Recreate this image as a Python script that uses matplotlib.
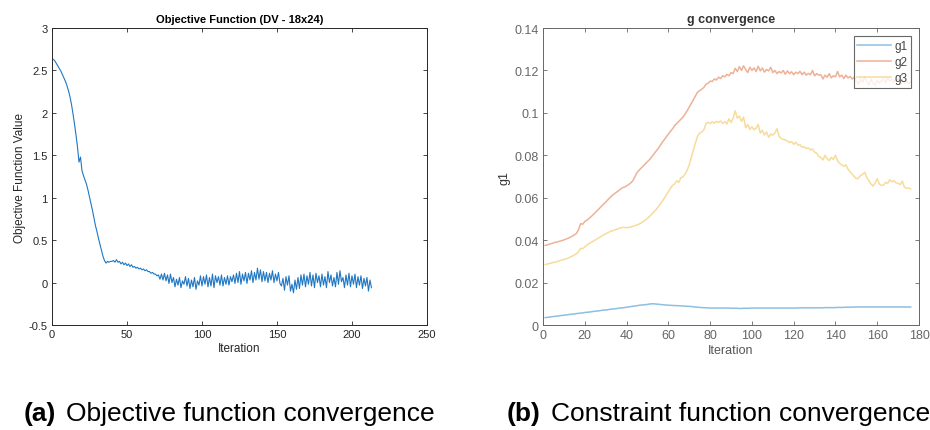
import matplotlib
matplotlib.use("Agg")
import matplotlib.pyplot as plt
from matplotlib.ticker import FuncFormatter

plt.rcParams['font.family'] = ['Liberation Sans', 'DejaVu Sans']

# objective function value per iteration (1..213)
obj = [
    2.63, 2.61, 2.58, 2.55, 2.52, 2.49, 2.45, 2.41, 2.37, 2.32,
    2.26, 2.19, 2.10, 1.99, 1.87, 1.74, 1.60, 1.42, 1.48, 1.32,
    1.26, 1.21, 1.16, 1.09, 1.01, 0.93, 0.85, 0.76, 0.67, 0.60,
    0.52, 0.45, 0.38, 0.31, 0.26, 0.23, 0.25, 0.24, 0.25, 0.25,
    0.26, 0.24, 0.27, 0.24, 0.25, 0.22, 0.24, 0.21, 0.23, 0.20,
    0.22, 0.19, 0.21, 0.18, 0.19, 0.17, 0.18, 0.16, 0.17, 0.15,
    0.16, 0.14, 0.15, 0.13, 0.13, 0.11, 0.12, 0.10, 0.10, 0.08,
    0.09, 0.04, 0.10, 0.03, 0.11, 0.02, 0.09, -0.01, 0.10, 0.00,
    0.06, -0.05, 0.04, -0.03, 0.06, -0.06, 0.02, -0.02, 0.07, -0.04,
    0.05, -0.07, 0.03, -0.05, 0.06, -0.08, 0.02, -0.03, 0.08, -0.04,
    0.07, -0.02, 0.09, -0.05, 0.06, -0.04, 0.10, -0.06, 0.08, 0.00,
    0.07, -0.03, 0.09, -0.04, 0.06, -0.02, 0.08, -0.03, 0.07, 0.01,
    0.09, -0.01, 0.11, 0.00, 0.13, -0.02, 0.10, 0.02, 0.12, -0.01,
    0.11, 0.03, 0.14, 0.00, 0.12, 0.03, 0.17, 0.04, 0.15, 0.01,
    0.13, 0.02, 0.12, 0.00, 0.11, 0.03, 0.14, 0.00, 0.10, 0.02,
    0.12, -0.01, -0.04, 0.05, -0.09, 0.07, -0.03, 0.08, -0.10, -0.02,
    -0.12, 0.03, -0.08, 0.06, -0.07, 0.09, -0.03, 0.10, -0.05, 0.08,
    -0.02, 0.12, -0.04, 0.09, -0.06, 0.11, 0.00, 0.08, -0.05, 0.10,
    -0.03, 0.07, -0.06, 0.13, 0.00, 0.09, -0.04, 0.06, -0.05, 0.12,
    -0.02, 0.14, 0.01, 0.06, -0.06, 0.09, -0.03, 0.11, -0.05, 0.08,
    -0.02, 0.10, -0.06, 0.07, -0.03, 0.08, -0.07, 0.05, -0.04, 0.06,
    -0.10, 0.03, -0.06,
]

# constraint values per iteration (1..176)
g1 = [
    .0035, .0036, .0037, .0039, .0040, .0041, .0042, .0044, .0045, .0046,
    .0047, .0049, .0050, .0051, .0052, .0054, .0055, .0056, .0057, .0059,
    .0060, .0061, .0062, .0064, .0065, .0066, .0067, .0069, .0070, .0071,
    .0072, .0074, .0075, .0076, .0077, .0079, .0080, .0081, .0082, .0084,
    .0085, .0087, .0088, .0090, .0091, .0093, .0094, .0095, .0096, .0097,
    .0099, .0100, .0100, .0099, .0098, .0097, .0096, .0095, .0094, .0093,
    .0093, .0092, .0092, .0091, .0091, .0090, .0090, .0089, .0088, .0088,
    .0087, .0086, .0085, .0084, .0083, .0082, .0082, .0081, .0081, .0080,
    .0080, .0080, .0080, .0080, .0080, .0080, .0080, .0080, .0080, .0079,
    .0079, .0079, .0079, .0078, .0078, .0079, .0079, .0079, .0079, .0080,
    .0080, .0080, .0080, .0080, .0080, .0080, .0080, .0080, .0080, .0080,
    .0080, .0080, .0080, .0080, .0080, .0080, .0080, .0080, .0080, .0080,
    .0080, .0080, .0081, .0081, .0081, .0081, .0081, .0081, .0081, .0081,
    .0081, .0081, .0081, .0081, .0082, .0082, .0082, .0082, .0082, .0082,
    .0083, .0083, .0083, .0083, .0084, .0084, .0084, .0084, .0085, .0085,
    .0085, .0085, .0085, .0085, .0085, .0085, .0085, .0085, .0085, .0085,
    .0085, .0085, .0085, .0085, .0085, .0085, .0085, .0085, .0085, .0085,
    .0085, .0085, .0085, .0085, .0085, .0085,
]

g2 = [
    .0375, .0378, .0381, .0384, .0387, .0390, .0392, .0395, .0398, .0401,
    .0405, .0409, .0414, .0419, .0425, .0432, .0450, .0478, .0475, .0488,
    .0494, .0502, .0511, .0520, .0530, .0540, .0550, .0560, .0570, .0579,
    .0590, .0600, .0610, .0617, .0625, .0632, .0640, .0647, .0650, .0656,
    .0662, .0670, .0680, .0700, .0719, .0730, .0740, .0750, .0760, .0770,
    .0780, .0792, .0805, .0818, .0830, .0845, .0860, .0873, .0887, .0900,
    .0913, .0925, .0940, .0950, .0960, .0970, .0980, .0995, .1010, .1027,
    .1045, .1063, .1080, .1098, .1105, .1112, .1120, .1135, .1140, .1150,
    .1148, .1160, .1155, .1168, .1162, .1175, .1170, .1182, .1175, .1190,
    .1185, .1210, .1195, .1218, .1200, .1222, .1205, .1190, .1215, .1200,
    .1212, .1195, .1220, .1198, .1212, .1192, .1205, .1198, .1215, .1190,
    .1200, .1185, .1195, .1188, .1200, .1182, .1198, .1185, .1194, .1180,
    .1192, .1185, .1196, .1180, .1192, .1178, .1186, .1180, .1200, .1175,
    .1185, .1178, .1180, .1160, .1178, .1168, .1185, .1165, .1175, .1170,
    .1195, .1170, .1178, .1162, .1178, .1165, .1172, .1160, .1168, .1150,
    .1135, .1160, .1145, .1170, .1150, .1130, .1160, .1140, .1130, .1155,
    .1140, .1150, .1160, .1142, .1165, .1150, .1158, .1145, .1155, .1160,
    .1148, .1158, .1140, .1150, .1138, .1145,
]

g3 = [
    .0285, .0287, .0290, .0292, .0295, .0297, .0300, .0303, .0306, .0309,
    .0312, .0316, .0320, .0325, .0330, .0336, .0345, .0362, .0360, .0368,
    .0377, .0383, .0389, .0395, .0401, .0407, .0413, .0419, .0425, .0430,
    .0435, .0440, .0444, .0447, .0450, .0454, .0458, .0460, .0460, .0459,
    .0460, .0462, .0465, .0468, .0472, .0476, .0481, .0488, .0495, .0503,
    .0512, .0522, .0532, .0543, .0555, .0568, .0582, .0597, .0612, .0628,
    .0645, .0658, .0665, .0680, .0672, .0695, .0698, .0712, .0730, .0755,
    .0790, .0825, .0860, .0890, .0905, .0910, .0920, .0950, .0955, .0950,
    .0958, .0952, .0960, .0955, .0962, .0950, .0958, .0948, .0972, .0955,
    .0975, .1010, .0975, .0985, .0960, .0980, .0930, .0945, .0922, .0935,
    .0920, .0928, .0945, .0905, .0918, .0895, .0910, .0885, .0900, .0895,
    .0905, .0925, .0890, .0880, .0875, .0872, .0868, .0860, .0865, .0852,
    .0862, .0848, .0850, .0838, .0840, .0832, .0835, .0825, .0830, .0815,
    .0810, .0795, .0790, .0778, .0800, .0785, .0775, .0790, .0780, .0800,
    .0775, .0762, .0755, .0748, .0755, .0735, .0722, .0712, .0700, .0690,
    .0692, .0705, .0710, .0720, .0695, .0680, .0665, .0655, .0670, .0690,
    .0665, .0658, .0660, .0672, .0668, .0685, .0675, .0680, .0670, .0668,
    .0662, .0678, .0650, .0645, .0645, .0642,
]

obj_it = list(range(1, len(obj) + 1))
g_it = list(range(1, len(g1) + 1))

fig = plt.figure(figsize=(9.3, 4.31), dpi=100)

# (a) objective
ax1 = fig.add_axes([0.0559, 0.2436, 0.4032, 0.689])
ax1.plot(obj_it, obj, color='#1f77c4', lw=0.8)
ax1.set_xlim(0, 250)
ax1.set_ylim(-0.5, 3)
ax1.set_xticks(range(0, 251, 50))
ax1.set_yticks([-0.5, 0, 0.5, 1, 1.5, 2, 2.5, 3])
ax1.yaxis.set_major_formatter(FuncFormatter(lambda v, p: '%g' % v))
ax1.set_title('Objective Function (DV - 18x24)', fontsize=8, fontweight='bold', pad=4)
ax1.set_xlabel('Iteration', fontsize=8.5, color='#262626', labelpad=2)
ax1.set_ylabel('Objective Function Value', fontsize=8.5, color='#262626', labelpad=2)

# (b) constraints
ax2 = fig.add_axes([0.5839, 0.2436, 0.4043, 0.689])
ax2.plot(g_it, g1, color='#0072BD', lw=1.1, alpha=0.45, label='g1')
ax2.plot(g_it, g2, color='#D95319', lw=1.1, alpha=0.45, label='g2')
ax2.plot(g_it, g3, color='#EDB120', lw=1.1, alpha=0.45, label='g3')
ax2.set_xlim(0, 180)
ax2.set_ylim(0, 0.14)
ax2.set_xticks(range(0, 181, 20))
ax2.set_yticks([0, 0.02, 0.04, 0.06, 0.08, 0.1, 0.12, 0.14])
ax2.yaxis.set_major_formatter(FuncFormatter(lambda v, p: '%g' % v))
ax2.set_title('g convergence', fontsize=9, fontweight='bold', pad=4, color='#333333')
ax2.set_xlabel('Iteration', fontsize=9, color='#555555', labelpad=2)
ax2.set_ylabel('g1', fontsize=9, color='#333333', labelpad=3)
leg = ax2.legend(loc='upper right', fontsize=8.5, frameon=True, fancybox=False,
                 handlelength=2.8, borderpad=0.3, labelspacing=0.35,
                 handletextpad=0.3, borderaxespad=0.7)
leg.get_frame().set_edgecolor('#444444')
leg.get_frame().set_linewidth(0.8)
for t in leg.get_texts():
    t.set_color('#444444')

for ax, c, ls in ((ax1, '#262626', 8), (ax2, '#666666', 9)):
    ax.tick_params(direction='in', top=True, right=True, length=3,
                   width=0.6, labelsize=ls, colors=c, pad=3)
    for s in ax.spines.values():
        s.set_color(c)
        s.set_linewidth(0.7)

# sub-captions
fig.text(24 / 930, 0.023, '(a)', fontsize=19, fontweight='bold', va='baseline')
fig.text(66 / 930, 0.023, 'Objective function convergence', fontsize=19, va='baseline')
fig.text(507 / 930, 0.023, '(b)', fontsize=19, fontweight='bold', va='baseline')
fig.text(551 / 930, 0.023, 'Constraint function convergence', fontsize=19, va='baseline')

fig.savefig('out.png', dpi=100)
